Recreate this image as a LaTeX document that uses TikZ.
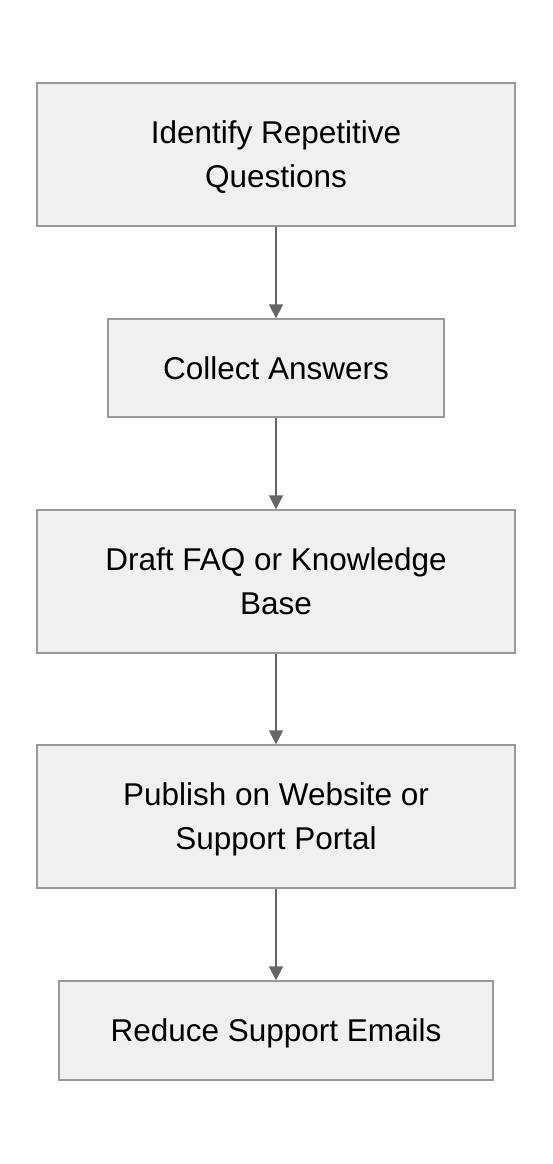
\documentclass[tikz,border=0pt]{standalone}
\usepackage{fontspec}
\setmainfont{Liberation Sans}
\usetikzlibrary{arrows.meta}
\tikzset{
  stepbox/.style={draw=black!40, fill=black!6, line width=1.3pt, align=center,
    inner sep=0pt, text depth=0pt, font=\fontsize{31.5}{44}\selectfont},
  flow/.style={draw=black!60, line width=1.6pt, -{Triangle[length=14pt,width=14pt]}}
}

\begin{document}
\begin{tikzpicture}[x=1pt,y=1pt]
   \path[use as bounding box] (0,0) rectangle (552,-1164);
   \node[stepbox, minimum width=478pt, minimum height=143pt] (identify) at (276,-154.5) {Identify Repetitive\\Questions};
   \node[stepbox, minimum width=336pt, minimum height=98pt]  (collect)  at (276,-368)   {Collect Answers};
   \node[stepbox, minimum width=478pt, minimum height=143pt] (draft)    at (276,-581.5) {Draft FAQ or Knowledge\\Base};
   \node[stepbox, minimum width=478pt, minimum height=143pt] (publish)  at (276,-816.5) {Publish on Website or\\Support Portal};
   \node[stepbox, minimum width=434pt, minimum height=99pt]  (reduce)   at (276,-1030.5) {Reduce Support Emails};
   \draw[flow] (identify) -- (collect);
   \draw[flow] (collect) -- (draft);
   \draw[flow] (draft) -- (publish);
   \draw[flow] (publish) -- (reduce);
\end{tikzpicture}
\end{document}
